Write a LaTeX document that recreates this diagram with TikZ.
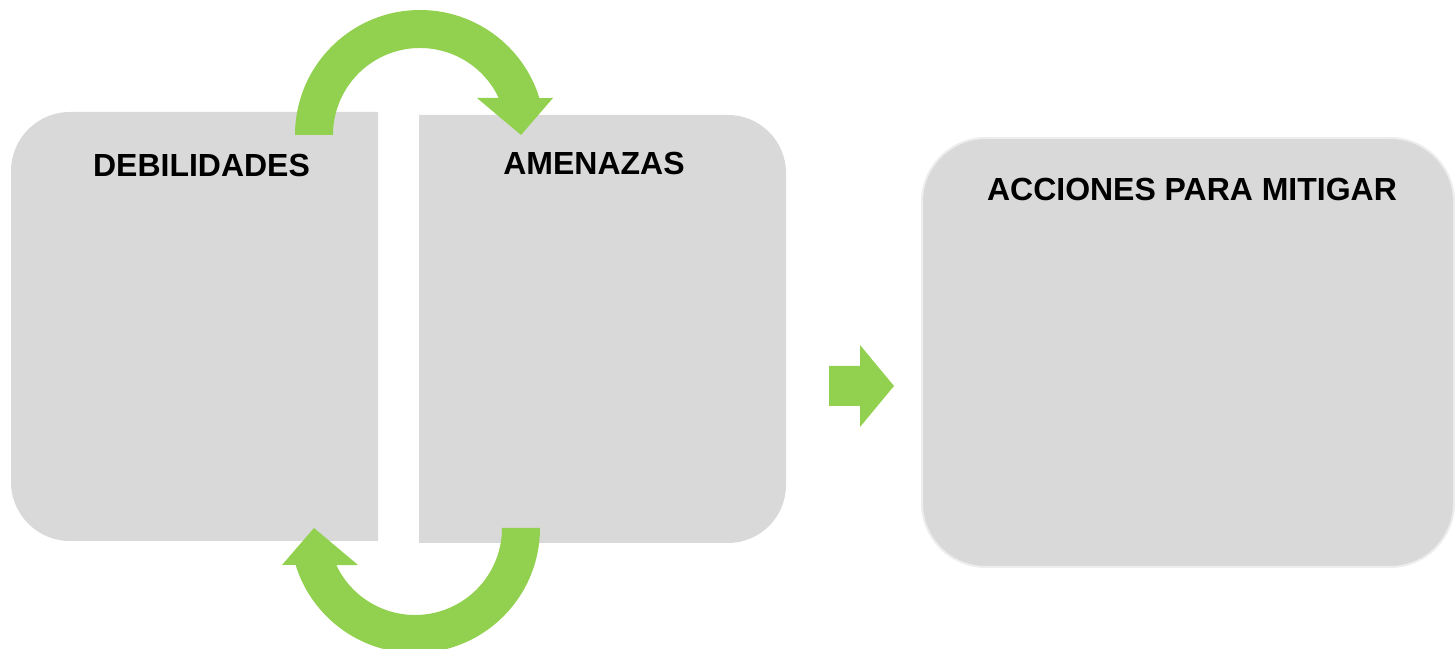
\documentclass[tikz,border=0pt]{standalone}
\usepackage{fontspec}
\setmainfont{Liberation Sans}
\definecolor{boxgray}{HTML}{D9D9D9}
\definecolor{boxedge}{HTML}{EDEDED}
\definecolor{leafgreen}{HTML}{92D050}
\tikzset{
  panel/.style={fill=boxgray},
  greenshape/.style={fill=leafgreen},
  heading/.style={font=\bfseries\fontsize{18.2pt}{22pt}\selectfont, text=black, anchor=base, inner sep=0pt},
  % a half-ring arrow whose circle centre is the local origin
  ringarrow/.pic={
    \fill[greenshape] (-125,0) arc[start angle=180, end angle=17.2, radius=125]
      -- (133,37) -- (101,0) -- (57,37) -- (25.2:87)
      arc[start angle=25.2, end angle=180, radius=87] -- cycle;
  }
}
\begin{document}
\begin{tikzpicture}[x=0.02cm, y=0.02cm]
\useasboundingbox (0,0) rectangle (1455,649);

% left panel: rounded on the left side only
\fill[panel] (378,108) -- (70,108) arc[start angle=270, end angle=180, radius=59]
  -- (11,478) arc[start angle=180, end angle=90, radius=59] -- (378,537) -- cycle;

% middle panel: rounded on the right side only
\fill[panel] (419,106) -- (728,106) arc[start angle=270, end angle=360, radius=58]
  -- (786,476) arc[start angle=0, end angle=90, radius=58] -- (419,534) -- cycle;

% right panel with a pale outline
\filldraw[panel, draw=boxedge, line width=0.04cm, rounded corners=1.28cm] (922,82) rectangle (1454,511);

% circular arrows between the two panels
\pic at (420,514) {ringarrow};
\pic[rotate=180] at (415,121) {ringarrow};

% block arrow towards the actions panel
\fill[greenshape] (829,243) -- (860,243) -- (860,222) -- (894,263)
  -- (860,304) -- (860,283) -- (829,283) -- cycle;

% headings
\node[heading] (deb) at (201.5,472) {DEBILIDADES};
\node[heading] (ame) at (594,474) {AMENAZAS};
\node[heading] (acc) at (1192,448) {ACCIONES PARA MITIGAR};
\end{tikzpicture}
\end{document}
